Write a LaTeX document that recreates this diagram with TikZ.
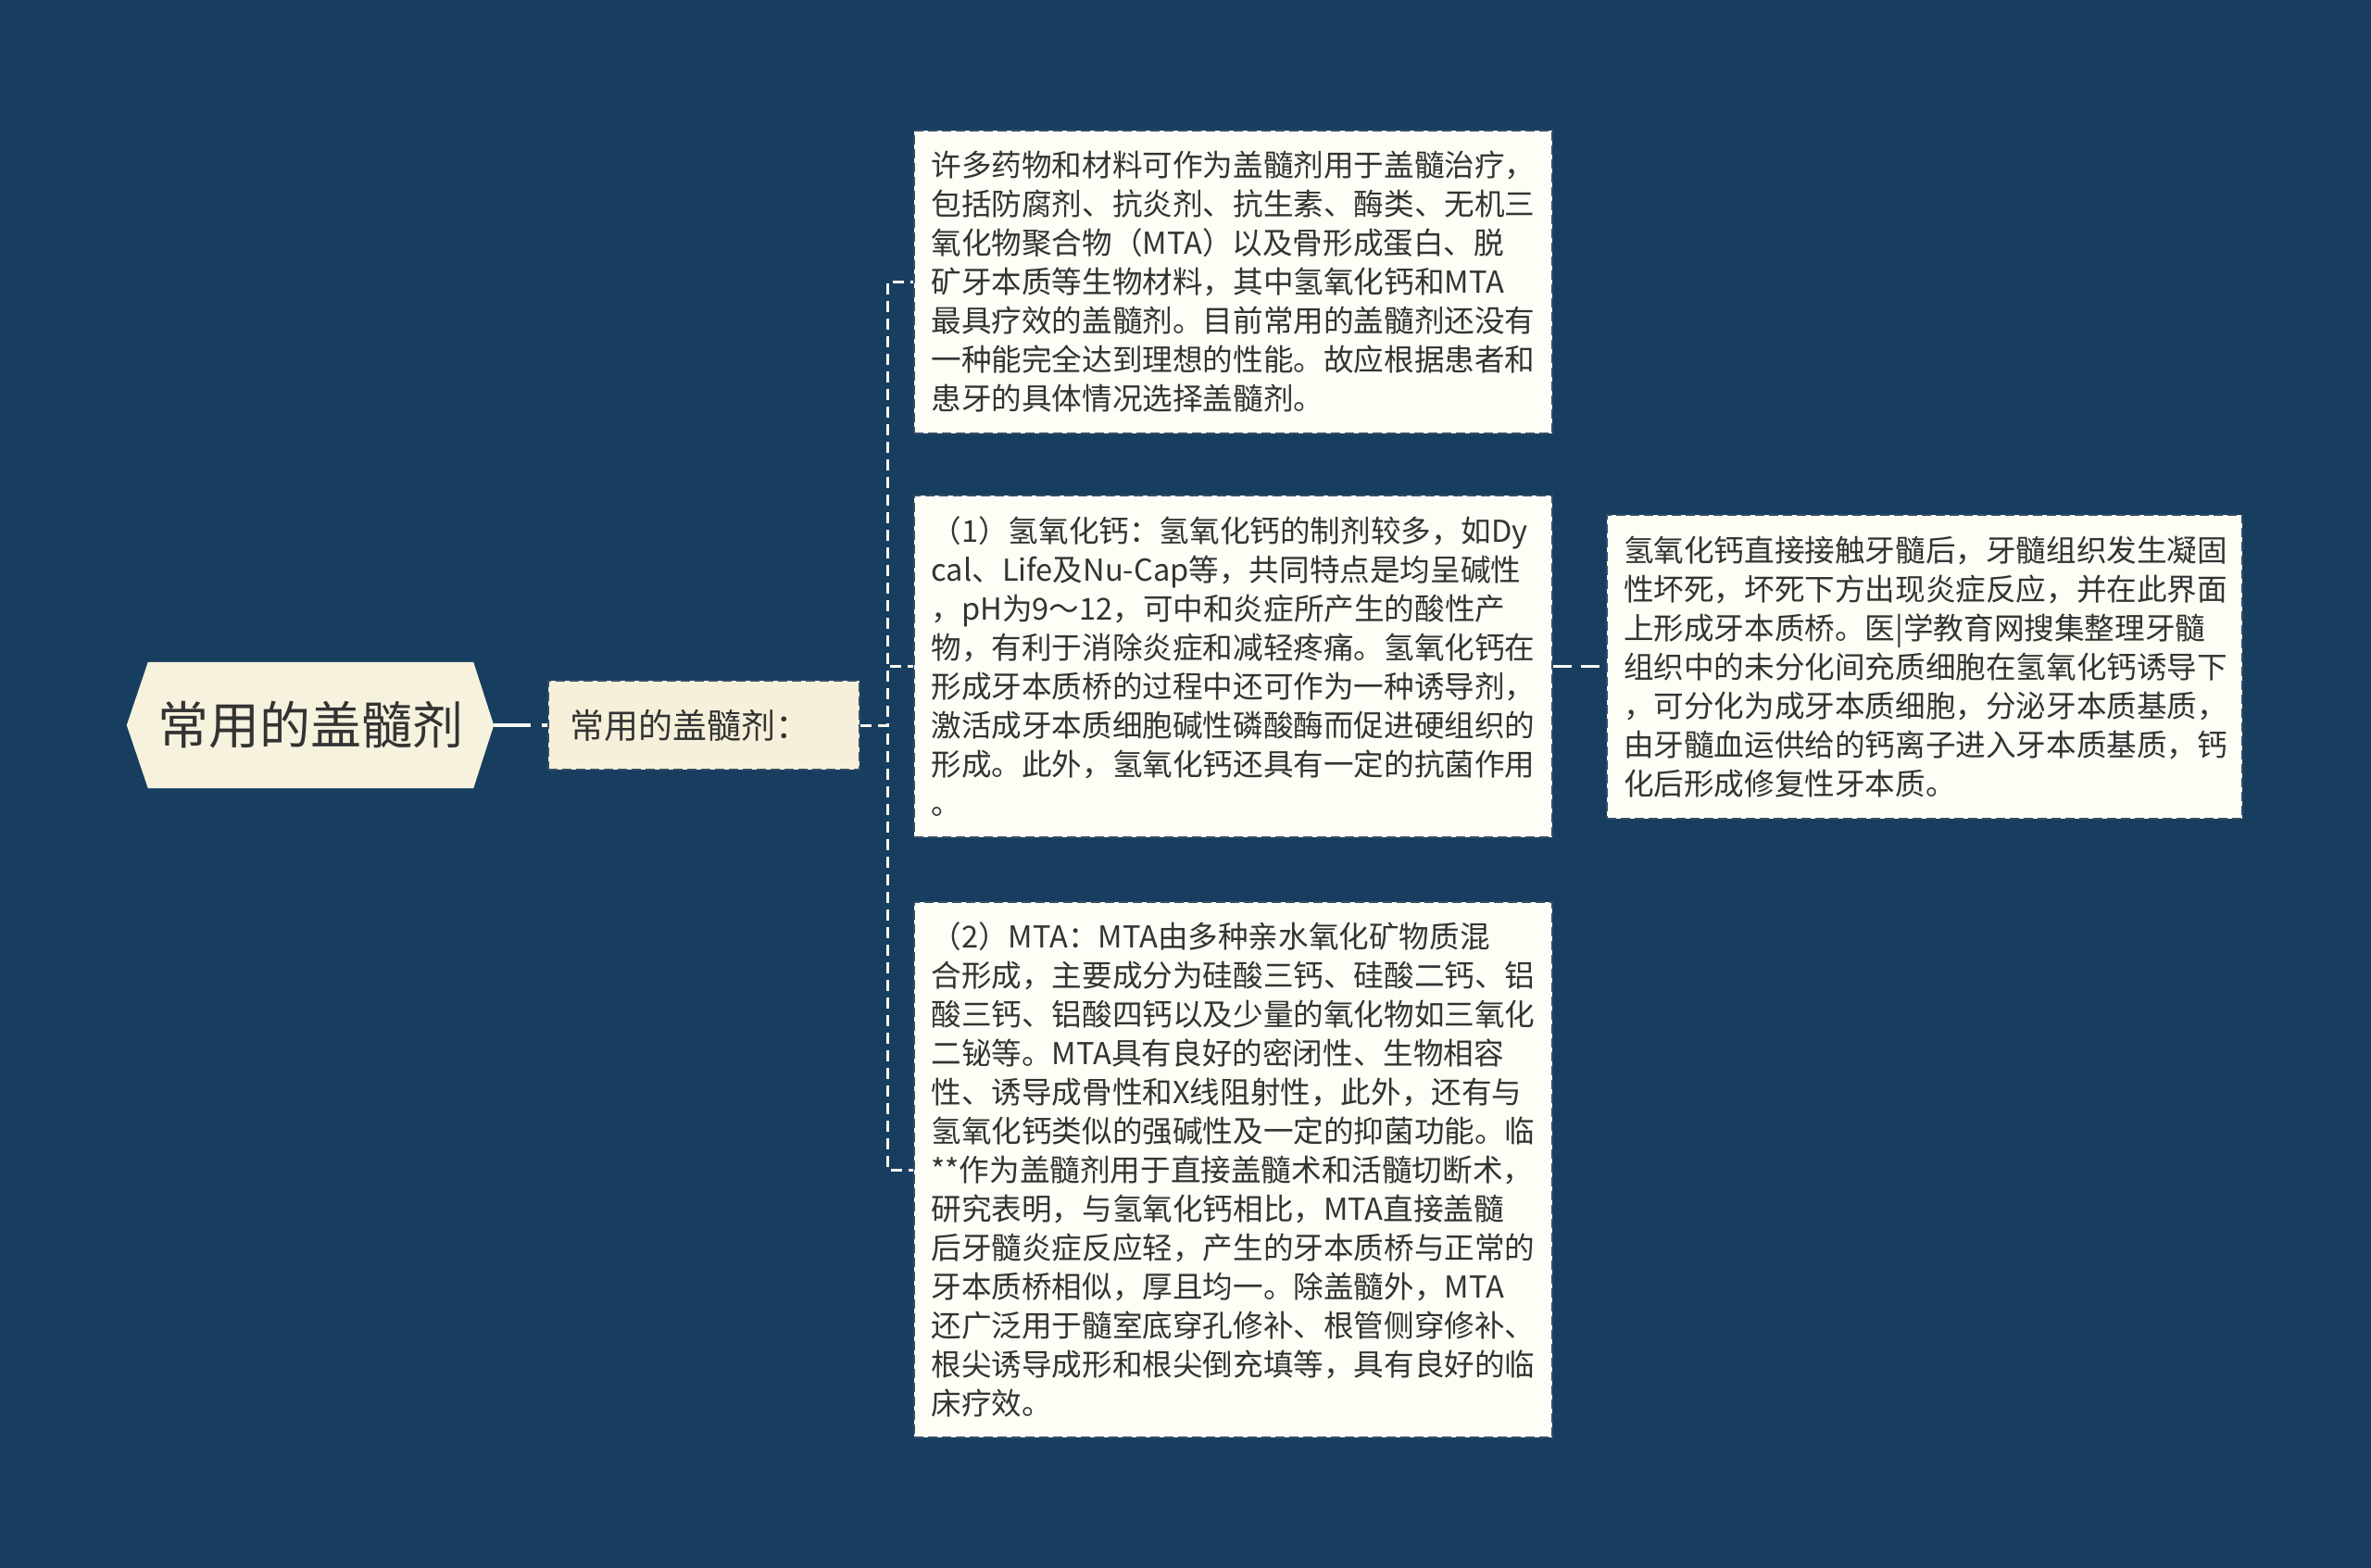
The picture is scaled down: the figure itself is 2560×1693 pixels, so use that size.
\documentclass[tikz,border=0pt]{standalone}
\usepackage{fontspec}
\setmainfont{Noto Sans CJK SC}
\usetikzlibrary{backgrounds}
\definecolor{bgc}{RGB}{24,62,95}
\definecolor{txt}{RGB}{51,51,51}
\definecolor{rootfill}{RGB}{247,242,222}
\definecolor{subfill}{RGB}{246,240,219}
\definecolor{boxfill}{RGB}{254,253,246}
\definecolor{boxedge}{RGB}{52,78,104}
\definecolor{linec}{RGB}{248,248,242}
\tikzset{
  rootnode/.style={draw=none, text=txt, minimum width=396pt, minimum height=136pt,
    inner sep=0pt, font=\fontsize{55}{62}\selectfont},
  subnode/.style={draw=boxedge, fill=subfill, line width=2pt, dash pattern=on 10pt off 5pt,
    text=txt, anchor=west, minimum width=336pt, minimum height=96pt, text width=290pt,
    inner xsep=23pt, inner ysep=0pt, align=left, font=\fontsize{37}{44}\selectfont},
  textbox/.style={draw=boxedge, fill=boxfill, line width=2pt, dash pattern=on 10pt off 5pt,
    text=txt, anchor=north west, minimum width=689pt, text width=652pt,
    inner xsep=18.5pt, inner ysep=0pt, align=left, font=\fontsize{32.6}{42}\selectfont},
  conn/.style={draw=linec, line width=3pt, dash pattern=on 12pt off 7pt},
  rootconn/.style={draw=linec, line width=4pt, dash pattern=on 40pt off 12pt}
}
\begin{document}
\begin{tikzpicture}[x=1pt,y=-1pt]
\useasboundingbox (0,0) rectangle (2560,1693);
\begin{scope}[on background layer]
  \fill[bgc] (0,0) rectangle (2560,1693);
\end{scope}

\node[rootnode] (root) at (335,783) {常用的盖髓剂};
\begin{scope}[on background layer]
  \fill[rootfill] (root.west) -- ([xshift=23pt]root.north west) -- ([xshift=-22pt]root.north east)
    -- (root.east) -- ([xshift=-22pt]root.south east) -- ([xshift=23pt]root.south west) -- cycle;
\end{scope}

\node[subnode] (sub) at (591,783) {常用的盖髓剂：};

\node[textbox, minimum height=327pt] (b1) at (986,140) {许多药物和材料可作为盖髓剂用于盖髓治疗，\\
包括防腐剂、抗炎剂、抗生素、酶类、无机三\\
氧化物聚合物（MTA）以及骨形成蛋白、脱\\
矿牙本质等生物材料，其中氢氧化钙和MTA\\
最具疗效的盖髓剂。目前常用的盖髓剂还没有\\
一种能完全达到理想的性能。故应根据患者和\\
患牙的具体情况选择盖髓剂。};

\node[textbox, minimum height=369pt] (b2) at (986,534) {（1）氢氧化钙：氢氧化钙的制剂较多，如Dy\\
cal、Life及Nu-Cap等，共同特点是均呈碱性\\
，pH为9～12，可中和炎症所产生的酸性产\\
物，有利于消除炎症和减轻疼痛。氢氧化钙在\\
形成牙本质桥的过程中还可作为一种诱导剂，\\
激活成牙本质细胞碱性磷酸酶而促进硬组织的\\
形成。此外，氢氧化钙还具有一定的抗菌作用\\
。};

\node[textbox, minimum height=578pt] (b3) at (986,973) {（2）MTA：MTA由多种亲水氧化矿物质混\\
合形成，主要成分为硅酸三钙、硅酸二钙、铝\\
酸三钙、铝酸四钙以及少量的氧化物如三氧化\\
二铋等。MTA具有良好的密闭性、生物相容\\
性、诱导成骨性和X线阻射性，此外，还有与\\
氢氧化钙类似的强碱性及一定的抑菌功能。临\\
{**}作为盖髓剂用于直接盖髓术和活髓切断术，\\
研究表明，与氢氧化钙相比，MTA直接盖髓\\
后牙髓炎症反应轻，产生的牙本质桥与正常的\\
牙本质桥相似，厚且均一。除盖髓外，MTA\\
还广泛用于髓室底穿孔修补、根管侧穿修补、\\
根尖诱导成形和根尖倒充填等，具有良好的临\\
床疗效。};

\node[textbox, minimum height=328pt, minimum width=686pt, text width=650pt, inner xsep=18pt] (b4) at (1734,555) {氢氧化钙直接接触牙髓后，牙髓组织发生凝固\\
性坏死，坏死下方出现炎症反应，并在此界面\\
上形成牙本质桥。医|学教育网搜集整理牙髓\\
组织中的未分化间充质细胞在氢氧化钙诱导下\\
，可分化为成牙本质细胞，分泌牙本质基质，\\
由牙髓血运供给的钙离子进入牙本质基质，钙\\
化后形成修复性牙本质。};

\coordinate (bus) at (958,783);
\draw[rootconn] (root.east) -- (sub.west);
\draw[conn] (sub.east) -- (bus) |- (b1.west);
\draw[conn] (sub.east) -- (bus) |- (b2.west);
\draw[conn] (sub.east) -- (bus) |- (b3.west);
\draw[conn, dash pattern=on 20pt off 10pt] (b2.east) -- (b2.east -| b4.west);
\end{tikzpicture}
\end{document}
